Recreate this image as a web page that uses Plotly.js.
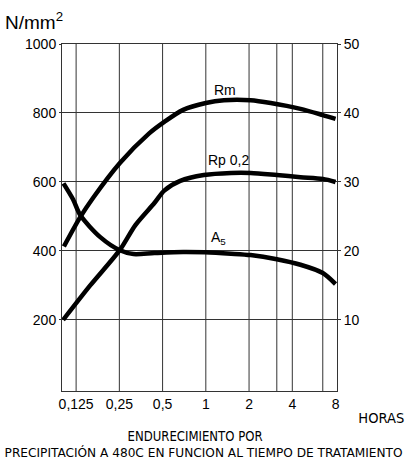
<!DOCTYPE html>
<html>
<head>
<meta charset="utf-8">
<script src="https://cdn.plot.ly/plotly-3.0.1.min.js"></script>
<style>html,body{margin:0;padding:0;background:#fff;}#chart{width:408px;height:459px;}</style>
</head>
<body>
<div id="chart"></div>
<script>
// Time (hours) and values
const rmHours = [0.1028, 0.1335, 0.1648, 0.2522, 0.4015, 0.5137, 0.6951, 1.0, 1.336, 2.05, 2.83, 4.56, 6.52, 8.0];
const rmValues = [413, 498, 555, 655, 740, 774, 809, 829, 837, 837, 829, 812, 794, 783];

const rpHours = [0.1015, 0.1567, 0.2522, 0.3234, 0.4384, 0.5137, 0.6636, 0.9688, 1.5, 2.05, 3.12, 4.56, 6.52, 8.0];
const rpValues = [200, 300, 403, 475, 539, 575, 603, 620, 626, 626, 620, 614, 609, 600];

const aHours = [0.1021, 0.1189, 0.1335, 0.1841, 0.2522, 0.3135, 0.4384, 0.6951, 0.9844, 1.5, 2.05, 3.12, 4.56, 6.52, 8.0];
const aValues = [29.8, 27.5, 25.2, 22.0, 20.1, 19.55, 19.7, 19.85, 19.8, 19.6, 19.4, 18.8, 18.0, 16.8, 15.2];

const xTickVals = [0.125, 0.25, 0.5, 1, 2, 4, 8];
const xTickText = ['0,125', '0,25', '0,5', '1', '2', '4', '8'];
const xGridVals = [0.125, 0.25, 0.5, 1, 2, 3.12, 4, 6.52];
const yLeftTicks = [200, 400, 600, 800, 1000];
const yRightTicks = [10, 20, 30, 40, 50];

const lineStyle = {color: '#000', width: 4.5, shape: 'spline', smoothing: 0.8};

const traces = [
  {x: rmHours, y: rmValues, mode: 'lines', line: lineStyle, name: 'Rm', hoverinfo: 'skip'},
  {x: rpHours, y: rpValues, mode: 'lines', line: lineStyle, name: 'Rp 0,2', hoverinfo: 'skip'},
  {x: aHours, y: aValues, mode: 'lines', line: lineStyle, name: 'A5', yaxis: 'y2', hoverinfo: 'skip'}
];

const gridShapes = xGridVals.map(v => ({
  type: 'line', xref: 'x', yref: 'paper', x0: v, x1: v, y0: 0, y1: 1,
  line: {color: '#333', width: 1}, layer: 'below'
}));

const numFont = {family: 'Liberation Sans, Arial, sans-serif', size: 14, color: '#000'};
const narrowFont = {family: 'DejaVu Sans Condensed, Liberation Sans, sans-serif', size: 13.5, color: '#000'};
const captionFont = {family: 'DejaVu Sans Condensed, Liberation Sans, sans-serif', size: 13.5, color: '#000'};
const captionFont2 = {family: 'DejaVu Sans Condensed, Liberation Sans, sans-serif', size: 12.8, color: '#000'};

const layout = {
  width: 408, height: 459,
  margin: {l: 62, r: 71, t: 44, b: 68},
  paper_bgcolor: '#fff', plot_bgcolor: '#fff',
  showlegend: false,
  xaxis: {
    type: 'log', range: [Math.log10(0.0997), Math.log10(8.19)],
    tickvals: xTickVals, ticktext: xTickText,
    showgrid: false, zeroline: false,
    showline: true, mirror: true, linecolor: '#333', linewidth: 1,
    ticks: '', tickfont: numFont
  },
  yaxis: {
    range: [-6, 1000], tickvals: yLeftTicks,
    showgrid: true, gridcolor: '#333', gridwidth: 1, zeroline: false,
    showline: true, mirror: true, linecolor: '#333', linewidth: 1,
    ticks: 'outside', ticklen: 2, tickcolor: '#333',
    tickfont: numFont
  },
  yaxis2: {
    overlaying: 'y', side: 'right', range: [-0.3, 50], tickvals: yRightTicks,
    showgrid: false, zeroline: false, showline: false,
    ticks: 'outside', ticklen: 3, tickcolor: '#333',
    tickfont: numFont
  },
  shapes: gridShapes,
  annotations: [
    {x: Math.log10(1.36), y: 867, xref: 'x', yref: 'y', text: 'Rm', showarrow: false, font: numFont},
    {x: Math.log10(1.44), y: 664, xref: 'x', yref: 'y', text: 'Rp 0,2', showarrow: false, font: numFont},
    {x: Math.log10(1.22), y: 21.9, xref: 'x', yref: 'y2', text: 'A<sub>5</sub>', showarrow: false, font: numFont},
    {x: -0.215, y: 1.066, xref: 'paper', yref: 'paper', xanchor: 'left', yanchor: 'middle', text: 'N/mm<sup>2</sup>', showarrow: false,
      font: {family: 'Liberation Sans, Arial, sans-serif', size: 19, color: '#000'}},
    {x: 1.16, y: -0.078, xref: 'paper', yref: 'paper', xanchor: 'center', yanchor: 'middle', text: 'HORAS', showarrow: false, font: narrowFont},
    {x: 0.487, y: -0.131, xref: 'paper', yref: 'paper', xanchor: 'center', yanchor: 'middle', text: 'ENDURECIMIENTO POR', showarrow: false, font: captionFont},
    {x: 0.516, y: -0.177, xref: 'paper', yref: 'paper', xanchor: 'center', yanchor: 'middle', text: 'PRECIPITACIÓN A 480C EN FUNCION AL TIEMPO DE TRATAMIENTO', showarrow: false, font: captionFont2}
  ]
};

// target rendered widths (px) for the condensed captions
const captionWidths = {'HORAS': 46, 'ENDURECIMIENTO POR': 135, 'PRECIPITACIÓN A 480C EN FUNCION AL TIEMPO DE TRATAMIENTO': 398};

Plotly.newPlot('chart', traces, layout, {staticPlot: true, displayModeBar: false}).then(function (gd) {
  gd.querySelectorAll('text.annotation-text').forEach(function (t) {
    const w = captionWidths[t.textContent];
    if (w) {
      t.setAttribute('textLength', w);
      t.setAttribute('lengthAdjust', 'spacingAndGlyphs');
    }
  });
});
</script>
</body>
</html>
